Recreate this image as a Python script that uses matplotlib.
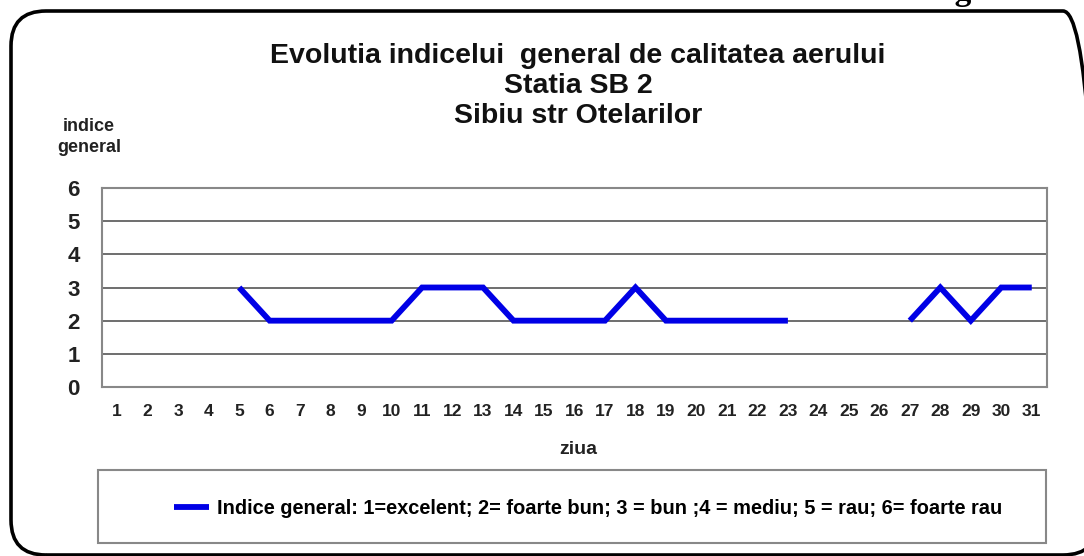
import numpy as np
import matplotlib
matplotlib.use("Agg")
import matplotlib.pyplot as plt
from matplotlib.patches import FancyBboxPatch, Rectangle

days = list(range(1, 32))
indice = [np.nan, np.nan, np.nan, np.nan, 3, 2, 2, 2, 2, 2,
          3, 3, 3, 2, 2, 2, 2, 3, 2, 2,
          2, 2, 2, np.nan, np.nan, np.nan, 2, 3, 2, 3, 3]
y_ticks = [0, 1, 2, 3, 4, 5, 6]

title = "Evolutia indicelui  general de calitatea aerului\nStatia SB 2\nSibiu str Otelarilor"
legend_label = "Indice general: 1=excelent; 2= foarte bun; 3 = bun ;4 = mediu; 5 = rau; 6= foarte rau"

plt.rcParams['font.family'] = ['Liberation Sans', 'DejaVu Sans']

W, H = 1084, 556
fig = plt.figure(figsize=(W / 100, H / 100), dpi=100)

# plot area
ax = fig.add_axes([102 / W, 1 - 387 / H, 945 / W, 199 / H])
ax.plot(days, indice, color='#0000e6', lw=4.2, solid_joinstyle='miter',
        solid_capstyle='butt', label=legend_label)
ax.set_xlim(0.5, 31.5)
ax.set_ylim(0, 6)
ax.set_yticks(y_ticks)
ax.set_xticks(days)
ax.grid(axis='y', color='#555555', lw=1.2)
ax.set_axisbelow(True)
for s in ax.spines.values():
    s.set_color('#888888')
    s.set_linewidth(1.5)
ax.tick_params(length=0)
ax.tick_params(axis='y', labelsize=16, pad=16)
ax.tick_params(axis='x', labelsize=12.5, pad=12)
for t in ax.get_xticklabels() + ax.get_yticklabels():
    t.set_fontweight('bold')
    t.set_color('#222222')

# titles and axis labels
fig.text(578 / W, 1 - 86 / H, title, ha='center', va='center', fontsize=20.5,
         fontweight='bold', linespacing=1.18, color='#111111')
fig.text(89 / W, 1 - 137 / H, "indice\ngeneral", ha='center', va='center',
         fontsize=13, fontweight='bold', linespacing=1.3, color='#222222')
fig.text(578 / W, 1 - 450 / H, "ziua", ha='center', va='center',
         fontsize=14, fontweight='bold', color='#222222')

# legend box
fig.patches.append(Rectangle((98 / W, 1 - 543 / H), 948 / W, 73 / H,
                             transform=fig.transFigure, fill=False,
                             ec='#888888', lw=1.5))
ax.legend(loc='center', bbox_to_anchor=(588 / W, 1 - 508 / H),
          bbox_transform=fig.transFigure, frameon=False,
          prop={'size': 14.4, 'weight': 'bold'}, handlelength=1.75,
          handletextpad=0.4)

# outer rounded frame (right side runs off the picture)
fig.patches.append(FancyBboxPatch((11 / W, 1 / H), 1087 / W, 544 / H,
                                  boxstyle="round,pad=0,rounding_size=%f" % (35 / W),
                                  mutation_aspect=W / H,
                                  transform=fig.transFigure, fill=False,
                                  ec='black', lw=2.6))

# cut-off caption at the top right
fig.text(1038 / W, 1.0, "Fig. 7.3.", ha='right', va='baseline',
         fontsize=24, fontweight='bold', family='Liberation Serif')

fig.savefig("out.png", dpi=100)
